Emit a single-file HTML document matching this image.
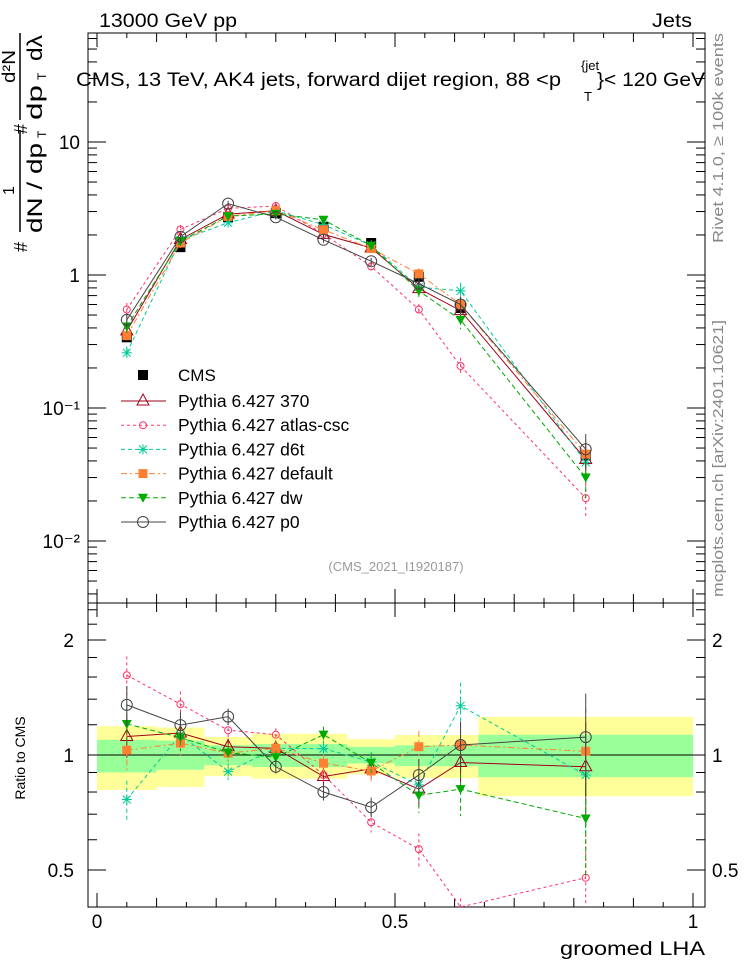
<!DOCTYPE html>
<html><head><meta charset="utf-8"><style>
body{margin:0;background:#fff}
svg{display:block;font-family:"Liberation Sans",sans-serif}
</style></head><body>
<svg id="c" width="746" height="972" viewBox="0 0 746 972">
<text x="99" y="27" font-size="19" textLength="138" lengthAdjust="spacingAndGlyphs">13000 GeV pp</text>
<text x="652" y="27" font-size="19" textLength="40" lengthAdjust="spacingAndGlyphs">Jets</text>
<text x="76" y="86" font-size="19" textLength="485" lengthAdjust="spacingAndGlyphs">CMS, 13 TeV, AK4 jets, forward dijet region, 88 &lt;p</text>
<text x="581" y="70" font-size="13">{jet</text>
<text x="584" y="101" font-size="13">T</text>
<text x="597" y="86" font-size="19" textLength="108" lengthAdjust="spacingAndGlyphs">}&lt; 120 GeV</text>
<text x="396" y="571" font-size="13" fill="#999" text-anchor="middle">(CMS_2021_I1920187)</text>
<text transform="translate(723,243) rotate(-90)" font-size="15" fill="#888" textLength="210" lengthAdjust="spacingAndGlyphs">Rivet 4.1.0, ≥ 100k events</text>
<text transform="translate(723,597) rotate(-90)" font-size="15" fill="#888" textLength="277" lengthAdjust="spacingAndGlyphs">mcplots.cern.ch [arXiv:2401.10621]</text>
<g font-size="21">
<line x1="20" y1="130" x2="20" y2="232" stroke="#000" stroke-width="1.5"/>
<text transform="translate(27,252) rotate(-90)" font-size="18">#</text>
<text transform="translate(14,195) rotate(-90)" font-size="16">1</text>
<text transform="translate(42,233) rotate(-90)" textLength="90" lengthAdjust="spacingAndGlyphs">dN / dp</text>
<text transform="translate(46,138) rotate(-90)" font-size="12">T</text>
<line x1="20" y1="33" x2="20" y2="120" stroke="#000" stroke-width="1.5"/>
<text transform="translate(27,134) rotate(-90)" font-size="18">#</text>
<text transform="translate(15,83) rotate(-90)" font-size="18" textLength="33" lengthAdjust="spacingAndGlyphs">d²N</text>
<text transform="translate(42,120) rotate(-90)" textLength="35" lengthAdjust="spacingAndGlyphs">dp</text>
<text transform="translate(46,80) rotate(-90)" font-size="12">T</text>
<text transform="translate(42,61) rotate(-90)" textLength="26" lengthAdjust="spacingAndGlyphs">dλ</text>
</g>
<text x="25" y="758" transform="rotate(-90,25,758)" font-size="14" text-anchor="middle">Ratio to CMS</text>
<text x="560" y="955" font-size="19" textLength="145" lengthAdjust="spacingAndGlyphs">groomed LHA</text>
<g id="g"></g>
</svg>
<script>
const binEdges=[0,0.1,0.18,0.26,0.34,0.42,0.5,0.58,0.64,1.0];
const xVals=[0.05,0.14,0.22,0.30,0.38,0.46,0.54,0.61,0.82];
const cmsVals=[0.34,1.62,2.73,2.92,2.30,1.74,0.97,0.565,0.044];
const bandYelHi=[1.19,1.18,1.115,1.137,1.137,1.10,1.128,1.128,1.258];
const bandYelLo=[0.81,0.825,0.88,0.867,0.867,0.89,0.87,0.87,0.78];
const bandGrnHi=[1.096,1.09,1.06,1.068,1.068,1.05,1.06,1.06,1.13];
const bandGrnLo=[0.90,0.915,0.94,0.93,0.93,0.95,0.935,0.935,0.875];
const v370=[0.38,1.85,2.87,3.04,2.02,1.60,0.79,0.54,0.041];
const vAtlas=[0.55,2.20,3.17,3.30,2.04,1.16,0.55,0.207,0.021];
const vD6t=[0.26,1.83,2.47,3.04,2.39,1.67,0.81,0.76,0.039];
const vDefault=[0.35,1.74,2.76,3.04,2.19,1.58,1.02,0.60,0.045];
const vDw=[0.41,1.80,2.77,2.88,2.60,1.66,0.76,0.46,0.030];
const vP0=[0.46,1.94,3.44,2.72,1.84,1.27,0.86,0.60,0.049];
const relErr=[0.12,0.08,0.05,0.04,0.05,0.06,0.1,0.15,0.3];
const yTickLabels=["10⁻²","10⁻¹","1","10"];
const ratioTickLabels=["0.5","1","2"];
const xTickLabels=["0","0.5","1"];

const NS="http://www.w3.org/2000/svg";
const G=document.getElementById('g');
function mk(t,a,p){const e=document.createElementNS(NS,t);for(const k in a)e.setAttribute(k,a[k]);(p||G).appendChild(e);return e;}
const L=88,R=705,T=33,MB=603,RB=907;
const X=v=>97+596*v;
const Y=v=>275-133*Math.log10(v);
const RY=v=>755-115*Math.log2(v);

for(let i=0;i<cmsVals.length;i++){
 const b1=mk('rect',{x:X(binEdges[i]),y:RY(bandYelHi[i]),width:X(binEdges[i+1])-X(binEdges[i]),height:RY(bandYelLo[i])-RY(bandYelHi[i]),fill:'#ffff99'});
 
 
 const b2=mk('rect',{x:X(binEdges[i]),y:RY(bandGrnHi[i]),width:X(binEdges[i+1])-X(binEdges[i]),height:RY(bandGrnLo[i])-RY(bandGrnHi[i]),fill:'#99ff99'});
 
 
}
mk('line',{x1:L,x2:R,y1:RY(1),y2:RY(1),stroke:'#000','stroke-width':1});

mk('rect',{x:L,y:T,width:R-L,height:MB-T,fill:'none',stroke:'#000'});
mk('rect',{x:L,y:MB,width:R-L,height:RB-MB,fill:'none',stroke:'#000'});

for(let k=0;k<=20;k++){const v=k*0.05;const len=k%10==0?14:(k%2==0?9:5);
 for(const [yb,dir] of [[MB,-1],[T,1],[RB,-1],[MB,1]]){mk('line',{x1:X(v),x2:X(v),y1:yb,y2:yb+dir*len,stroke:'#000'});}}
xTickLabels.forEach((s,i)=>{const t=mk('text',{x:X(i*0.5),y:928,'font-size':19,'text-anchor':'middle'});t.textContent=s;
 
 });
for(let d=-3;d<=1;d++)for(let m=1;m<10;m++){const v=m*Math.pow(10,d);const y=Y(v);if(y<T||y>MB)continue;const len=m==1?18:9;
 mk('line',{x1:L,x2:L+len,y1:y,y2:y,stroke:'#000'});mk('line',{x1:R,x2:R-len,y1:y,y2:y,stroke:'#000'});}
yTickLabels.forEach((s,i)=>{const t=mk('text',{x:80,y:Y(Math.pow(10,i-2))+7,'font-size':19,'text-anchor':'end'});t.textContent=s;
 
 });
[0.4,0.5,0.6,0.7,0.8,0.9,1,1.2,1.4,1.6,1.8,2,2.2,2.4].forEach(v=>{const y=RY(v);const len=(v==0.5||v==1||v==2)?18:9;
 mk('line',{x1:L,x2:L+len,y1:y,y2:y,stroke:'#000'});mk('line',{x1:R,x2:R-len,y1:y,y2:y,stroke:'#000'});});
ratioTickLabels.forEach((s,i)=>{const v=[0.5,1,2][i];
 const t=mk('text',{x:74,y:RY(v)+7,'font-size':19,'text-anchor':'end'});t.textContent=s;
 
 
 const t2=mk('text',{x:712,y:RY(v)+7,'font-size':19});t2.textContent=s;
 
 });

function marker(kind,color,x,y,p){
 if(kind=='sq')mk('rect',{x:x-5,y:y-5,width:10,height:10,fill:color},p);
 else if(kind=='sqs')mk('rect',{x:x-4.5,y:y-4.5,width:9,height:9,fill:color},p);
 else if(kind=='tri')mk('path',{d:`M${x},${y-7}L${x+6},${y+4}L${x-6},${y+4}Z`,fill:'none',stroke:color},p);
 else if(kind=='dtri')mk('path',{d:`M${x-5},${y-4}L${x+5},${y-4}L${x},${y+5}Z`,fill:color},p);
 else if(kind=='circ')mk('circle',{cx:x,cy:y,r:5.5,fill:'none',stroke:color},p);
 else if(kind=='scirc')mk('circle',{cx:x,cy:y,r:3.5,fill:'none',stroke:color},p);
 else if(kind=='star'){mk('path',{d:`M${x-5},${y}H${x+5}M${x},${y-5}V${y+5}M${x-4},${y-4}L${x+4},${y+4}M${x+4},${y-4}L${x-4},${y+4}`,stroke:color},p);}
}
const series=[
 {name:'Pythia 6.427 370',vals:v370,color:'#a0001a',dash:'',m:'tri',id:'p370'},
 {name:'Pythia 6.427 atlas-csc',vals:vAtlas,color:'#ff3366',dash:'3,3',m:'scirc',id:'atlas-csc'},
 {name:'Pythia 6.427 d6t',vals:vD6t,color:'#00cc99',dash:'4,3',m:'star',id:'d6t'},
 {name:'Pythia 6.427 default',vals:vDefault,color:'#ff8033',dash:'6,3,2,3',m:'sqs',id:'default'},
 {name:'Pythia 6.427 dw',vals:vDw,color:'#00aa00',dash:'5,3',m:'dtri',id:'dw'},
 {name:'Pythia 6.427 p0',vals:vP0,color:'#444444',dash:'',m:'circ',id:'p0'}
];
const cg=mk('g',{});


cmsVals.forEach((v,i)=>marker('sq','#000',X(xVals[i]),Y(v),cg));
function clipY(y,lo,hi){return Math.max(lo,Math.min(hi,y));}
series.forEach(s=>{
 const g=mk('g',{});
 
 
 const pts=s.vals.map((v,i)=>X(xVals[i])+','+Y(v)).join(' ');
 mk('polyline',{points:pts,fill:'none',stroke:s.color,'stroke-dasharray':s.dash,'stroke-width':1},g);
 const rpts=s.vals.map((v,i)=>X(xVals[i])+','+clipY(RY(v/cmsVals[i]),MB,RB)).join(' ');
 mk('polyline',{points:rpts,fill:'none',stroke:s.color,'stroke-dasharray':s.dash,'stroke-width':1},g);
 s.vals.forEach((v,i)=>{const x=X(xVals[i]);const e=relErr[i];
  mk('line',{x1:x,x2:x,y1:Y(v*(1+e)),y2:Y(v*(1-e)),stroke:s.color,'stroke-dasharray':s.dash},g);
  const r=v/cmsVals[i];
  const y1=clipY(RY(r*(1+e)),MB,RB),y2=clipY(RY(r*(1-e)),MB,RB);
  mk('line',{x1:x,x2:x,y1:y1,y2:y2,stroke:s.color,'stroke-dasharray':s.dash},g);
  marker(s.m,s.color,x,Y(v),g);
  const ry=RY(r);if(ry>MB&&ry<RB)marker(s.m,s.color,x,ry,g);
 });
});
const lg=mk('g',{});


const e0=mk('g',{},lg);


marker('sq','#000',143,375,e0);
const t0=mk('text',{x:178,y:381,'font-size':17},e0);t0.textContent='CMS';
series.forEach((s,k)=>{const y=401+k*24.2;const e=mk('g',{},lg);
 
 
 mk('line',{x1:121,x2:166,y1:y,y2:y,stroke:s.color,'stroke-dasharray':s.dash},e);
 marker(s.m,s.color,143,y,e);
 const t=mk('text',{x:178,y:y+6,'font-size':17.5},e);t.textContent=s.name;});
</script>
</body></html>
